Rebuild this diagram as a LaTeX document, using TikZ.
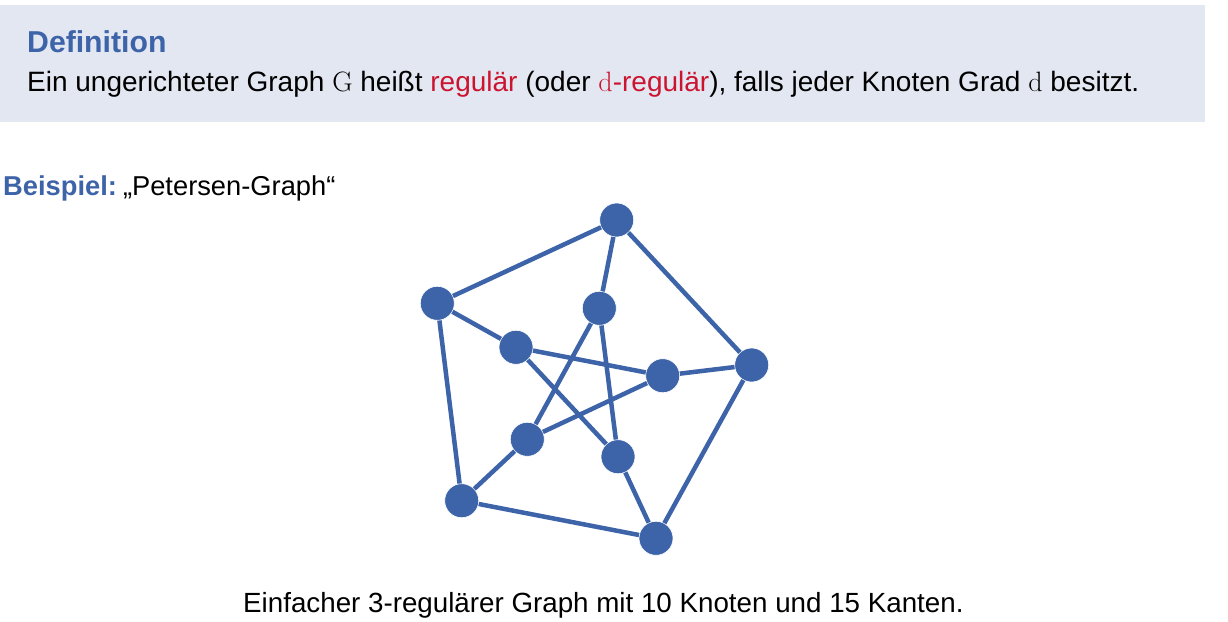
\documentclass[tikz,border=0pt]{standalone}
\usepackage{fontspec}
\setmainfont{Liberation Sans}
\newfontfamily\lmr{Latin Modern Roman}
\definecolor{defbg}{HTML}{E3E7F1}
\definecolor{sblue}{HTML}{3D63A8}
\definecolor{sred}{HTML}{CC1430}
\begin{document}
\begin{tikzpicture}[x=1pt,y=-1pt,
  txt/.style={anchor=base west,inner sep=0pt,font=\fontsize{28}{32}\selectfont},
  vtx/.style={circle,fill=sblue,draw=white,line width=0.6pt,minimum size=34pt,inner sep=0pt},
  edge/.style={draw=sblue,line width=4.5pt}]
\useasboundingbox (0,0) rectangle (1228,621);
\fill[defbg] (0,5) rectangle (1205,122);
\node[txt,text=sblue,font=\fontsize{30.2}{34}\selectfont\bfseries] (deftitle) at (27,52) {Definition};
\node[txt] (deftext) at (27,91) {Ein ungerichteter Graph {\lmr G} heißt \textcolor{sred}{regulär} (oder \textcolor{sred}{{\lmr d}-regulär}), falls jeder Knoten Grad {\lmr d} besitzt.};
\node[txt,font=\fontsize{27.3}{32}\selectfont] (bsp) at (3,195) {\textcolor{sblue}{\bfseries Beispiel:}\hspace{-0.15em} „Petersen-Graph“};
\node[txt,font=\fontsize{27.75}{32}\selectfont] (cap) at (243,612) {Einfacher 3-regulärer Graph mit 10 Knoten und 15 Kanten.};
% vertices
\node[vtx] (o1) at (616.7,220) {};
\node[vtx] (o2) at (437.3,303.3) {};
\node[vtx] (o3) at (461.7,500.7) {};
\node[vtx] (o4) at (656,538.3) {};
\node[vtx] (o5) at (751.7,365) {};
\node[vtx] (i1) at (599.3,308.3) {};
\node[vtx] (i2) at (516,347.3) {};
\node[vtx] (i3) at (662.7,375.7) {};
\node[vtx] (i4) at (527.3,439.3) {};
\node[vtx] (i5) at (618,456.7) {};
\path[edge] (o1) -- (o2) (o2) -- (o3) (o3) -- (o4) (o4) -- (o5) (o5) -- (o1)
  (o1) -- (i1) (o2) -- (i2) (o3) -- (i4) (o4) -- (i5) (o5) -- (i3)
  (i1) -- (i4) (i1) -- (i5) (i2) -- (i3) (i2) -- (i5) (i3) -- (i4);
\end{tikzpicture}
\end{document}
